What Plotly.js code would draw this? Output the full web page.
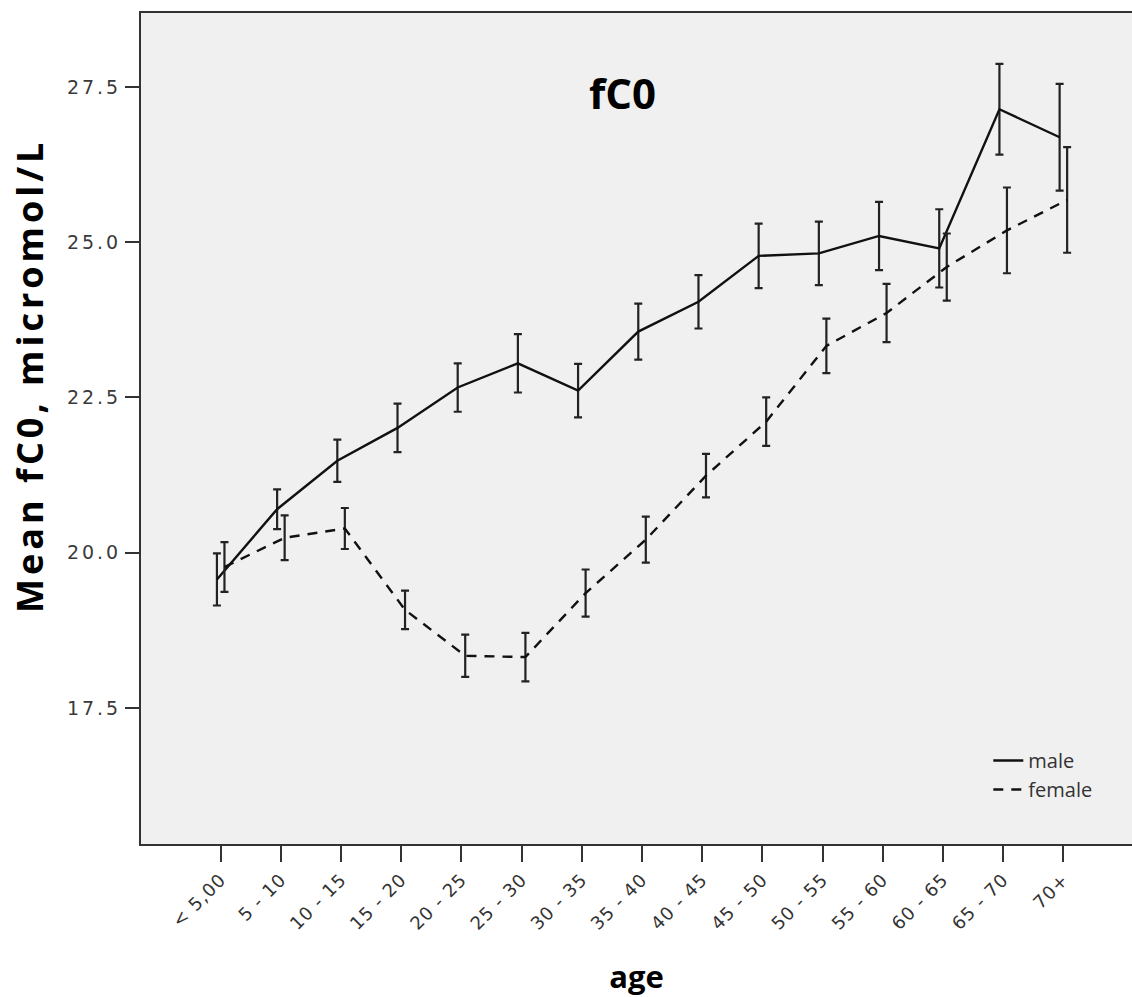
<!DOCTYPE html>
<html>
<head>
<meta charset="utf-8">
<script src="https://cdn.plot.ly/plotly-3.0.1.min.js"></script>
<style>
html,body{margin:0;padding:0;background:#fff;}
#chart{width:1132px;height:997px;}
#chart .yaxislayer-above text{letter-spacing:3px;}
#chart .xaxislayer-above text{letter-spacing:1px;}
#chart g.annotation[data-index="1"] text{letter-spacing:4px;}
</style>
</head>
<body>
<div id="chart"></div>
<script>
var ageGroups = ["< 5,00","5 - 10","10 - 15","15 - 20","20 - 25","25 - 30","30 - 35","35 - 40","40 - 45","45 - 50","50 - 55","55 - 60","60 - 65","65 - 70","70+"];
var maleMean = [19.57, 20.70, 21.48, 22.01, 22.66, 23.05, 22.61, 23.56, 24.04, 24.78, 24.82, 25.10, 24.90, 27.14, 26.69];
var maleCI = [0.42, 0.32, 0.34, 0.39, 0.39, 0.47, 0.43, 0.45, 0.43, 0.52, 0.51, 0.55, 0.63, 0.73, 0.86];
var femaleMean = [19.77, 20.24, 20.39, 19.08, 18.34, 18.32, 19.35, 20.21, 21.24, 22.11, 23.33, 23.86, 24.60, 25.19, 25.68];
var femaleCI = [0.40, 0.36, 0.33, 0.31, 0.34, 0.39, 0.38, 0.37, 0.35, 0.39, 0.44, 0.47, 0.54, 0.69, 0.85];
var yTicks = [17.5, 20.0, 22.5, 25.0, 27.5];
var yTickText = ["17.5", "20.0", "22.5", "25.0", "27.5"];

var traces = [
  {
    type: "scatter", mode: "lines", name: "male",
    x: ageGroups, y: maleMean,
    offsetgroup: "m",
    line: {color: "#111111", width: 2.4},
    error_y: {type: "data", array: maleCI, visible: true, color: "#222222", thickness: 2.2, width: 4}
  },
  {
    type: "scatter", mode: "lines", name: "female",
    x: ageGroups, y: femaleMean,
    offsetgroup: "f",
    line: {color: "#111111", width: 2.4, dash: "10px,8px"},
    error_y: {type: "data", array: femaleCI, visible: true, color: "#222222", thickness: 2.2, width: 4}
  }
];

var layout = {
  width: 1132, height: 997,
  margin: {l: 141, r: 0, t: 13, b: 153},
  paper_bgcolor: "#ffffff",
  plot_bgcolor: "#f0f0f0",
  scattermode: "group",
  scattergap: 0.75,
  showlegend: true,
  legend: {
    x: 0.855, y: 0.124, xanchor: "left", yanchor: "top",
    bgcolor: "rgba(0,0,0,0)",
    font: {family: "Open Sans", size: 20, color: "#333333"},
    tracegroupgap: 0
  },
  annotations: [
    {
      text: "fC0", xref: "paper", yref: "paper",
      x: (622 - 141) / 991, y: (844 - 93) / 831,
      xanchor: "center", yanchor: "middle", showarrow: false,
      font: {family: "Open Sans", size: 42, color: "#000000", weight: "bold"}
    },
    {
      text: "Mean fC0, micromol/L", xref: "paper", yref: "paper",
      x: (29 - 141) / 991, y: (844 - 376) / 831,
      xanchor: "center", yanchor: "middle", showarrow: false, textangle: -90,
      font: {family: "Open Sans", size: 36, color: "#000000", weight: "bold"}
    }
  ],
  xaxis: {
    type: "category",
    range: [-1.324, 15.14],
    showgrid: false, zeroline: false,
    showline: true, linecolor: "#333333", linewidth: 2, mirror: true,
    ticks: "outside", ticklen: 16, tickwidth: 2, tickcolor: "#333333",
    tickangle: -45,
    tickfont: {family: "DejaVu Sans", size: 18, color: "#333333"},
    title: {text: "age", font: {family: "Open Sans", size: 31, color: "#000000", weight: "bold"}, standoff: 48}
  },
  yaxis: {
    range: [15.31, 28.69],
    tickvals: yTicks, ticktext: yTickText,
    showgrid: false, zeroline: false,
    showline: true, linecolor: "#333333", linewidth: 2, mirror: false,
    ticks: "outside", ticklen: 14, tickwidth: 2, tickcolor: "#333333",
    tickfont: {family: "DejaVu Sans", size: 19, color: "#3a3a3a"}
  }
};

Plotly.newPlot("chart", traces, layout, {displayModeBar: false, staticPlot: true});
</script>
</body>
</html>
